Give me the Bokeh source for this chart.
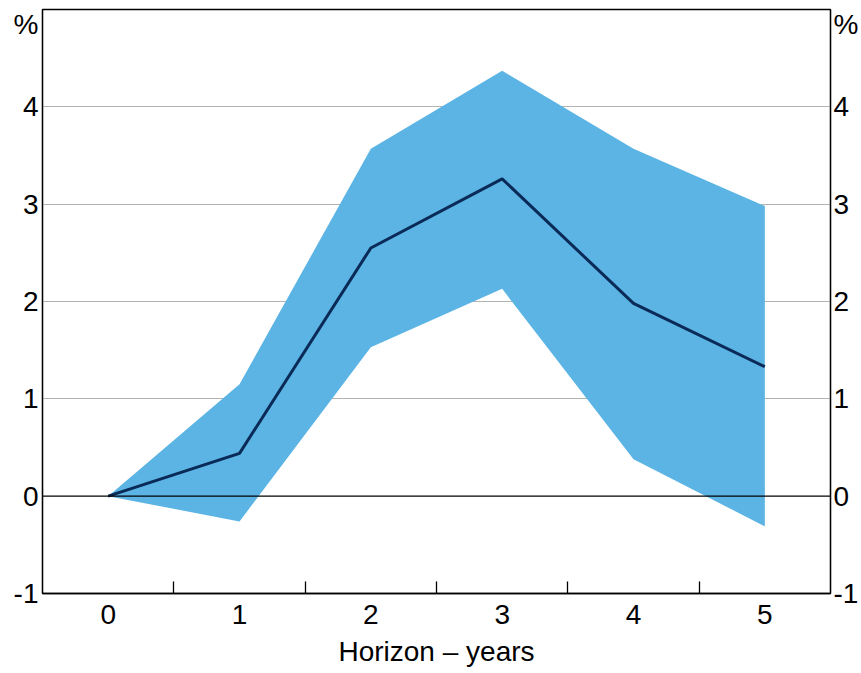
from bokeh.plotting import figure
from bokeh.models import FixedTicker, LinearAxis, Span, Range1d, ColumnDataSource
from bokeh.embed import file_html
from bokeh.resources import INLINE

horizon = [0, 1, 2, 3, 4, 5]
central = [0.0, 0.44, 2.55, 3.26, 1.98, 1.33]
upper = [0.0, 1.15, 3.57, 4.37, 3.57, 2.98]
lower = [0.0, -0.26, 1.53, 2.13, 0.38, -0.31]
y_ticks = [-1, 0, 1, 2, 3, 4]
y_labels = ["-1", "0", "1", "2", "3", "4"]
unit_label = "%"
x_ticks = [0, 1, 2, 3, 4, 5]
x_minor = [0.5, 1.5, 2.5, 3.5, 4.5]

FONT = "Liberation Sans"
FS = "28px"
UNIT_POS = 4.85

src = ColumnDataSource(dict(x=horizon, c=central, u=upper, l=lower))

p = figure(width=861, height=673, output_backend="svg", toolbar_location=None,
           x_range=Range1d(-0.5, 5.5), y_range=Range1d(-1, 5),
           min_border_left=42, min_border_right=29, min_border_top=9, min_border_bottom=80)
p.yaxis.visible = False
p.xaxis.visible = False
p.background_fill_color = "white"
p.outline_line_color = "black"
p.outline_line_width = 1.3
p.outline_line_alpha = 1

p.xgrid.visible = False
p.ygrid.ticker = FixedTicker(ticks=[1, 2, 3, 4])
p.ygrid.grid_line_color = "#b3b3b3"
p.ygrid.grid_line_width = 1

p.varea(x="x", y1="l", y2="u", source=src, fill_color="#5BB4E4")
p.add_layout(Span(location=0, dimension="width", line_color="black", line_width=1.3))
p.line(x="x", y="c", source=src, line_color="#0A2A57", line_width=3)

overrides = {t: s for t, s in zip(y_ticks, y_labels)}
overrides[UNIT_POS] = unit_label

def yaxis(side, standoff):
    ax = LinearAxis(ticker=FixedTicker(ticks=y_ticks + [UNIT_POS]))
    ax.major_label_overrides = overrides
    ax.major_tick_line_color = None
    ax.minor_tick_line_color = None
    ax.major_tick_in = 0
    ax.major_tick_out = 0
    ax.axis_line_color = "black"
    ax.axis_line_width = 1.3
    ax.major_label_text_font = FONT
    ax.major_label_text_font_size = FS
    ax.major_label_text_color = "black"
    ax.major_label_standoff = standoff
    p.add_layout(ax, side)

yaxis("left", 4)
yaxis("right", 3)

xa = LinearAxis(ticker=FixedTicker(ticks=x_ticks, minor_ticks=x_minor))
xa.axis_line_color = "black"
xa.axis_line_width = 1.3
xa.major_tick_line_color = None
xa.major_tick_in = 0
xa.major_tick_out = 0
xa.minor_tick_line_color = "black"
xa.minor_tick_line_width = 1.3
xa.minor_tick_in = 12
xa.minor_tick_out = 0
xa.major_label_text_font = FONT
xa.major_label_text_font_size = FS
xa.major_label_text_color = "black"
xa.major_label_standoff = 11
xa.axis_label = "Horizon – years"
xa.axis_label_text_font = FONT
xa.axis_label_text_font_size = FS
xa.axis_label_text_font_style = "normal"
xa.axis_label_text_color = "black"
xa.axis_label_standoff = 9
p.add_layout(xa, "below")

open("out.html", "w").write(file_html(p, INLINE))
